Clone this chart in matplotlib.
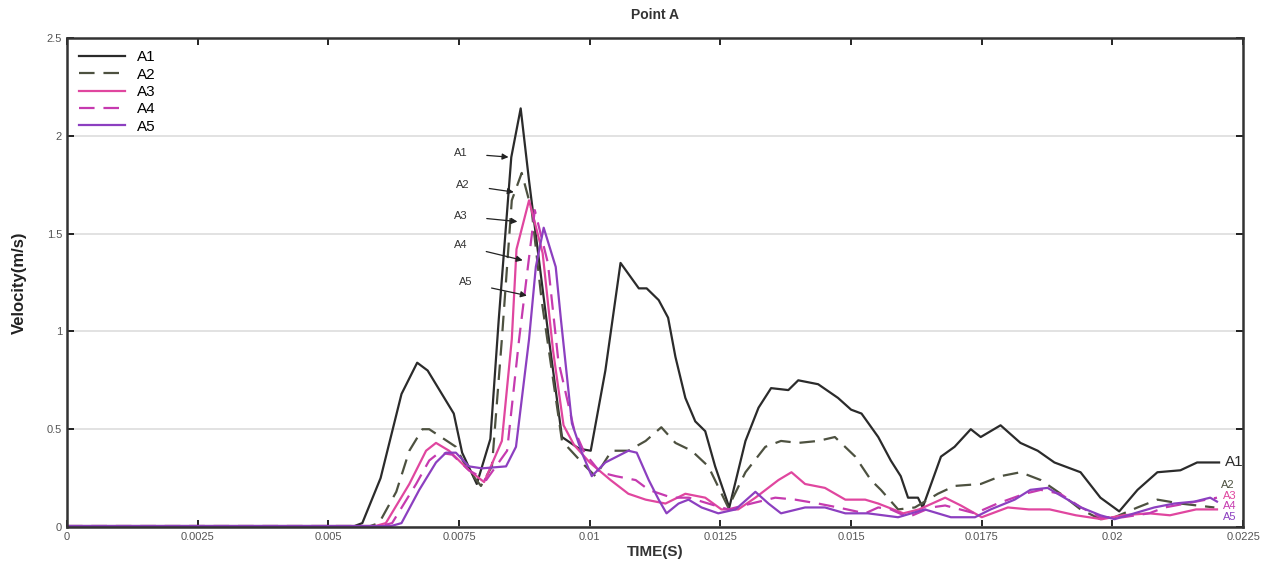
import matplotlib.pyplot as plt

plt.rcParams['font.family'] = ['Liberation Sans', 'DejaVu Sans']

# velocity histories at point A (time in s, velocity in m/s)
t_a1 = [0, 0.0055, 0.00565, 0.0060, 0.0064, 0.0067, 0.0069, 0.0074, 0.00756, 0.00784, 0.0081,
        0.00826, 0.0085, 0.00868, 0.00884, 0.00922, 0.00947, 0.0098, 0.01002, 0.0103, 0.01059,
        0.01094, 0.01109, 0.01132, 0.0115, 0.01164, 0.01183, 0.01202, 0.01221, 0.0124, 0.01267,
        0.01298, 0.01323, 0.01347, 0.0138, 0.01399, 0.01437, 0.01475, 0.015, 0.0152, 0.01552,
        0.01576, 0.01595, 0.01609, 0.01628, 0.01637, 0.01672, 0.01698, 0.01729, 0.01748, 0.01786,
        0.01824, 0.01857, 0.01889, 0.01939, 0.01977, 0.02013, 0.02048, 0.02086, 0.0213, 0.02162,
        0.02204]
v_a1 = [0.005, 0.005, 0.02, 0.25, 0.68, 0.84, 0.80, 0.58, 0.38, 0.22, 0.45,
        1.06, 1.89, 2.14, 1.77, 0.96, 0.46, 0.40, 0.39, 0.80, 1.35,
        1.22, 1.22, 1.16, 1.07, 0.87, 0.66, 0.54, 0.49, 0.31, 0.10,
        0.44, 0.61, 0.71, 0.70, 0.75, 0.73, 0.66, 0.60, 0.58, 0.46,
        0.34, 0.26, 0.15, 0.15, 0.10, 0.36, 0.41, 0.50, 0.46, 0.52,
        0.43, 0.39, 0.33, 0.28, 0.15, 0.08, 0.19, 0.28, 0.29, 0.33,
        0.33]

t_a2 = [0, 0.0058, 0.00597, 0.0063, 0.00655, 0.0068, 0.00693, 0.00744, 0.00763, 0.00792, 0.00813,
        0.00832, 0.00851, 0.0087, 0.00889, 0.00908, 0.00947, 0.00992, 0.01011, 0.01042, 0.01074,
        0.01107, 0.01137, 0.01164, 0.01195, 0.01227, 0.01265, 0.01298, 0.01336, 0.01366, 0.01399,
        0.01437, 0.01469, 0.01508, 0.01538, 0.01557, 0.0159, 0.01622, 0.01666, 0.01698, 0.01748,
        0.01786, 0.01824, 0.01863, 0.01901, 0.01939, 0.01977, 0.02004, 0.02048, 0.02086, 0.0213,
        0.02195]
v_a2 = [0.005, 0.005, 0.02, 0.18, 0.39, 0.50, 0.50, 0.41, 0.31, 0.21, 0.31,
        0.96, 1.67, 1.81, 1.62, 1.16, 0.44, 0.31, 0.26, 0.39, 0.39,
        0.44, 0.51, 0.43, 0.39, 0.31, 0.10, 0.28, 0.41, 0.44, 0.43,
        0.44, 0.46, 0.36, 0.24, 0.19, 0.09, 0.10, 0.17, 0.21, 0.22,
        0.26, 0.28, 0.24, 0.17, 0.09, 0.04, 0.05, 0.10, 0.14, 0.12,
        0.10]

t_a3 = [0, 0.0059, 0.0061, 0.00655, 0.00687, 0.00706, 0.00731, 0.00769, 0.00798, 0.00832, 0.00851,
        0.0086, 0.00884, 0.0091, 0.0093, 0.0095, 0.0097, 0.0100, 0.0104, 0.01074, 0.01107,
        0.01145, 0.01183, 0.01221, 0.01252, 0.01284, 0.01317, 0.01361, 0.01386, 0.01412, 0.0145,
        0.01489, 0.01527, 0.01552, 0.016, 0.0163, 0.0168, 0.0171, 0.0175, 0.018, 0.0184,
        0.0188, 0.0193, 0.0198, 0.0202, 0.0207, 0.0211, 0.0216, 0.0220]
v_a3 = [0.005, 0.005, 0.02, 0.22, 0.39, 0.43, 0.39, 0.29, 0.23, 0.44, 0.96,
        1.42, 1.67, 1.40, 0.90, 0.52, 0.42, 0.33, 0.24, 0.17, 0.14,
        0.12, 0.17, 0.15, 0.09, 0.09, 0.15, 0.24, 0.28, 0.22, 0.20,
        0.14, 0.14, 0.12, 0.07, 0.09, 0.15, 0.11, 0.05, 0.10, 0.09,
        0.09, 0.06, 0.04, 0.06, 0.07, 0.06, 0.09, 0.09]

t_a4 = [0, 0.006, 0.00622, 0.00668, 0.00693, 0.00712, 0.00737, 0.00769, 0.00802, 0.00842, 0.00865,
        0.00895, 0.0092, 0.0094, 0.0097, 0.0099, 0.0102, 0.0105, 0.01088, 0.01113, 0.01157,
        0.0119, 0.01227, 0.01265, 0.01309, 0.01355, 0.01393, 0.01437, 0.01475, 0.01527, 0.01552,
        0.01576, 0.01609, 0.01653, 0.0168, 0.01737, 0.0178, 0.01832, 0.01863, 0.019, 0.0194,
        0.01977, 0.0202, 0.0207, 0.021, 0.0216, 0.0220]
v_a4 = [0.005, 0.005, 0.02, 0.22, 0.34, 0.38, 0.37, 0.29, 0.24, 0.39, 0.96,
        1.62, 1.35, 0.85, 0.50, 0.38, 0.28, 0.26, 0.24, 0.19, 0.15,
        0.15, 0.12, 0.09, 0.12, 0.15, 0.14, 0.12, 0.10, 0.07, 0.10,
        0.09, 0.05, 0.10, 0.11, 0.07, 0.12, 0.17, 0.19, 0.17, 0.10,
        0.05, 0.05, 0.07, 0.10, 0.13, 0.15]

t_a5 = [0, 0.0062, 0.0064, 0.00674, 0.00706, 0.00725, 0.00744, 0.00769, 0.00794, 0.0084, 0.00859,
        0.00884, 0.00897, 0.00912, 0.00935, 0.00945, 0.00966, 0.00985, 0.01004, 0.0103, 0.01074,
        0.0109, 0.01113, 0.01132, 0.01147, 0.0117, 0.01189, 0.01214, 0.01246, 0.01279, 0.01317,
        0.01342, 0.01366, 0.01412, 0.0145, 0.01489, 0.01532, 0.0159, 0.01641, 0.01691, 0.01737,
        0.01767, 0.01813, 0.01843, 0.01876, 0.01908, 0.0194, 0.01977, 0.02004, 0.02042, 0.0208,
        0.02118, 0.02157, 0.02187, 0.0220]
v_a5 = [0.005, 0.005, 0.02, 0.19, 0.33, 0.38, 0.38, 0.31, 0.30, 0.31, 0.41,
        0.96, 1.33, 1.53, 1.33, 1.06, 0.53, 0.38, 0.26, 0.33, 0.39,
        0.38, 0.24, 0.14, 0.07, 0.12, 0.14, 0.10, 0.07, 0.09, 0.18,
        0.12, 0.07, 0.10, 0.10, 0.07, 0.07, 0.05, 0.09, 0.05, 0.05,
        0.09, 0.14, 0.19, 0.20, 0.15, 0.10, 0.06, 0.04, 0.07, 0.10,
        0.12, 0.13, 0.15, 0.13]

series = [
    ('A1', t_a1, v_a1, '#2b2b2b', '-'),
    ('A2', t_a2, v_a2, '#4d5140', (0, (7, 4))),
    ('A3', t_a3, v_a3, '#e0469f', '-'),
    ('A4', t_a4, v_a4, '#c63aaf', (0, (7, 4))),
    ('A5', t_a5, v_a5, '#8c3fc0', '-'),
]

# end-of-line tags: font size and height; the crowded low ones are stacked
end_tags = {'A1': (11, 0.33), 'A2': (8, 0.215), 'A3': (8, 0.160),
            'A4': (8, 0.105), 'A5': (8, 0.050)}

# where the callout arrows touch each curve, and where their labels sit
callouts = [('A1', 0.0085, 1.89, 0.00740, 1.91),
            ('A2', 0.00860, 1.71, 0.00745, 1.75),
            ('A3', 0.00867, 1.56, 0.00740, 1.59),
            ('A4', 0.00877, 1.36, 0.00740, 1.44),
            ('A5', 0.00885, 1.18, 0.00750, 1.25)]

fig = plt.figure(figsize=(12.75, 5.7), dpi=100)
ax = fig.add_axes([0.0525, 0.0754, 0.9225, 0.858])

for name, t, v, c, ls in series:
    ax.plot(t, v, color=c, linestyle=ls, linewidth=1.6, label=name)
    fs, ty = end_tags[name]
    ax.text(t[-1] + 0.00012, ty, name, color=c, fontsize=fs, va='center',
            clip_on=False)

for name, tx, vy, lx, ly in callouts:
    ax.annotate(name, xy=(tx, vy), xytext=(lx, ly), fontsize=8, color='#333333',
                va='center',
                arrowprops=dict(arrowstyle='-|>', color='#222222', lw=0.9,
                                mutation_scale=9, shrinkA=12))

ax.set_xlim(0, 0.0225)
ax.set_ylim(0, 2.5)
ax.set_xticks([0, 0.0025, 0.005, 0.0075, 0.01, 0.0125, 0.015, 0.0175, 0.02, 0.0225])
ax.set_xticklabels(['0', '0.0025', '0.005', '0.0075', '0.01', '0.0125', '0.015', '0.0175',
                    '0.02', '0.0225'])
ax.set_yticks([0, 0.5, 1, 1.5, 2, 2.5])
ax.set_yticklabels(['0', '0.5', '1', '1.5', '2', '2.5'])
ax.tick_params(direction='in', top=True, right=True, labelsize=8, labelcolor='#555555',
               length=5, width=1.2)
ax.yaxis.grid(True, color='#dddddd', linewidth=1.2)
ax.set_axisbelow(True)
for s in ax.spines.values():
    s.set_linewidth(1.8)
    s.set_color('#333333')

ax.set_title('Point A', fontsize=10, fontweight='bold', color='#333333', pad=14)
ax.set_xlabel('TIME(S)', fontsize=11, fontweight='bold', color='#333333', labelpad=2)
ax.set_ylabel('Velocity(m/s)', fontsize=12, fontweight='bold', color='#222222', labelpad=14)

ax.legend(loc='upper left', frameon=False, fontsize=11, handlelength=3.0,
          labelspacing=0.22, borderaxespad=0.4)

fig.savefig('out.png', dpi=100)
